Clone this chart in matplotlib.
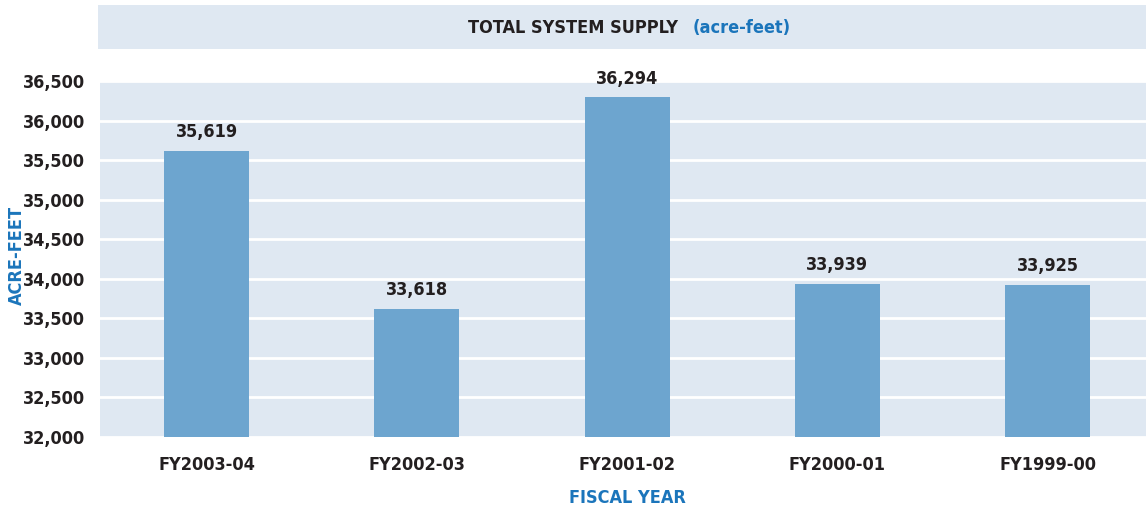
import matplotlib
matplotlib.use("Agg")
import matplotlib.pyplot as plt
from matplotlib.patches import Rectangle
from matplotlib.ticker import FuncFormatter

# data
years = ["FY2003-04", "FY2002-03", "FY2001-02", "FY2000-01", "FY1999-00"]
supply = [35619, 33618, 36294, 33939, 33925]
y_ticks = [32000, 32500, 33000, 33500, 34000, 34500, 35000, 35500, 36000, 36500]

# condensed bold, closest to the original's narrow sans
plt.rcParams['font.family'] = ['DejaVu Sans']
plt.rcParams['font.stretch'] = 'condensed'
plt.rcParams['font.weight'] = 'bold'

dark = '#231f20'
blue = '#1b75bb'
band = '#dfe8f2'
bar_color = '#6da5cf'

fig = plt.figure(figsize=(11.46, 5.14), dpi=100)
ax = fig.add_axes([100 / 1146, 77 / 514, 1046 / 1146, 356 / 514])
ax.set_facecolor(band)

x = range(len(years))
ax.bar(x, supply, width=0.405, color=bar_color, zorder=3)

# value labels above bars
for i, v in enumerate(supply):
    ax.annotate(f"{v:,}", (i, v), xytext=(0, 7), textcoords='offset points',
                ha='center', va='bottom', fontsize=13, fontweight='bold', color=dark)

ax.set_ylim(32000, 36500)
ax.set_xlim(-0.507, 4.468)
ax.set_yticks(y_ticks)
ax.yaxis.set_major_formatter(FuncFormatter(lambda v, p: f"{int(v):,}"))
ax.set_xticks(list(x))
ax.set_xticklabels(years)
ax.tick_params(length=0, labelsize=13, labelcolor=dark)
ax.tick_params(axis='y', pad=11)
ax.tick_params(axis='x', pad=14)
ax.grid(axis='y', color='white', linewidth=2, zorder=1)
ax.set_axisbelow(True)
for s in ax.spines.values():
    s.set_visible(False)

fig.text(17 / 1146, 1 - 255 / 514, "ACRE-FEET", color=blue, fontsize=13,
         fontweight='bold', rotation=90, ha='center', va='center')
fig.text(627 / 1146, 1 - 498 / 514, "FISCAL YEAR", color=blue, fontsize=13,
         fontweight='bold', ha='center', va='center')

# title band
fig.patches.append(Rectangle((98 / 1146, 1 - 49 / 514), 1048 / 1146, 44 / 514,
                             transform=fig.transFigure, facecolor=band, edgecolor='none'))
fig.text(678 / 1146, 1 - 28 / 514, "TOTAL SYSTEM SUPPLY", color=dark, fontsize=13,
         fontweight='bold', ha='right', va='center')
fig.text(693 / 1146, 1 - 28 / 514, "(acre-feet)", color=blue, fontsize=13,
         fontweight='bold', ha='left', va='center')

fig.savefig("out.png", dpi=100)
